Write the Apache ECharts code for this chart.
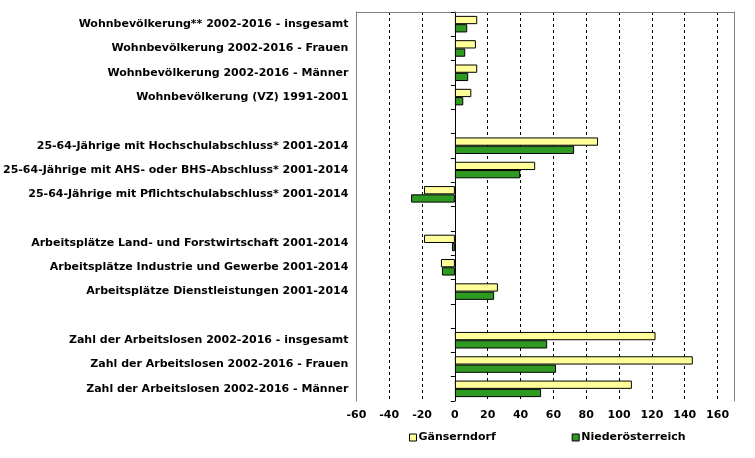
<!DOCTYPE html>
<html>
<head>
<meta charset="utf-8">
<script src="https://cdn.jsdelivr.net/npm/echarts@6/dist/echarts.min.js"></script>
<style>
html,body{margin:0;padding:0;background:#fff;}
#c{width:755px;height:458px;}
</style>
</head>
<body>
<div id="c"></div>
<script>
const categories = [
  'Wohnbevölkerung** 2002-2016 - insgesamt',
  'Wohnbevölkerung 2002-2016 - Frauen',
  'Wohnbevölkerung 2002-2016 - Männer',
  'Wohnbevölkerung (VZ) 1991-2001',
  ' ',
  '25-64-Jährige mit Hochschulabschluss* 2001-2014',
  '25-64-Jährige mit AHS- oder BHS-Abschluss* 2001-2014',
  '25-64-Jährige mit Pflichtschulabschluss* 2001-2014',
  '  ',
  'Arbeitsplätze Land- und Forstwirtschaft 2001-2014',
  'Arbeitsplätze Industrie und Gewerbe 2001-2014',
  'Arbeitsplätze Dienstleistungen 2001-2014',
  '   ',
  'Zahl der Arbeitslosen 2002-2016 - insgesamt',
  'Zahl der Arbeitslosen 2002-2016 - Frauen',
  'Zahl der Arbeitslosen 2002-2016 - Männer'
];
const seriesNames = ['Gänserndorf', 'Niederösterreich'];
const gaenserndorf = [13.6, 12.8, 13.6, 10.0, null, 87.2, 48.9, -18.8, null, -18.8, -8.5, 26.2, null, 122.2, 144.9, 107.8];
const niederoesterreich = [7.5, 6.3, 8.1, 5.1, null, 72.6, 39.8, -26.7, null, -1.8, -7.9, 23.9, null, 56.2, 61.6, 52.5];
const xMin = -60, xMax = 170, xStep = 20;

const FONT = '"DejaVu Sans", Verdana, sans-serif';
const chart = echarts.init(document.getElementById('c'), null, {renderer: 'canvas'});
const valueAxisBase = {type: 'value', min: xMin, max: xMax, interval: xStep};
chart.setOption({
  animation: false,
  backgroundColor: '#fff',
  textStyle: {fontFamily: FONT},
  grid: {left: 355, right: 21, top: 12, bottom: 57, containLabel: false},
  legend: {
    data: seriesNames,
    left: 404, bottom: 10,
    itemGap: 76,
    icon: 'rect', itemWidth: 7, itemHeight: 7,
    itemStyle: {borderColor: '#000', borderWidth: 1},
    textStyle: {fontFamily: FONT, fontWeight: 'bold', fontSize: 11, color: '#000', padding: [0,0,0,-3]}
  },
  xAxis: [
    Object.assign({}, valueAxisBase, {
      position: 'bottom',
      axisLine: {show: false, onZero: false},
      axisTick: {show: false},
      axisLabel: {showMaxLabel: false, margin: 9, fontFamily: FONT, fontWeight: 'bold', fontSize: 11, color: '#000'},
      splitLine: {show: true, showMinLine: false, showMaxLine: false, lineStyle: {color: '#000', type: [3, 3], width: 1}}
    }),
    Object.assign({}, valueAxisBase, {
      position: 'top',
      axisLine: {show: true, onZero: false, lineStyle: {color: '#808080', width: 1}},
      axisTick: {show: false}, axisLabel: {show: false}, splitLine: {show: false}
    })
  ],
  yAxis: [
    {
      type: 'category', data: categories, inverse: true, position: 'left',
      axisLine: {show: true, onZero: false, lineStyle: {color: '#808080', width: 1}},
      axisTick: {show: false},
      axisLabel: {margin: 8, padding: [3, 0, 0, 0], fontFamily: FONT, fontWeight: 'bold', fontSize: 11, color: '#000'}
    },
    {
      type: 'category', data: categories, inverse: true, position: 'left',
      axisLine: {show: true, onZero: true, lineStyle: {color: '#000', width: 1}},
      axisTick: {show: true, length: 4, lineStyle: {color: '#000'}},
      axisLabel: {show: false}
    },
    {
      type: 'category', data: categories, inverse: true, position: 'right',
      axisLine: {show: true, onZero: false, lineStyle: {color: '#808080', width: 1}},
      axisTick: {show: false}, axisLabel: {show: false}
    }
  ],
  series: [
    {
      name: seriesNames[0], type: 'bar', data: gaenserndorf,
      xAxisIndex: 0, yAxisIndex: 0,
      barGap: '0%', barCategoryGap: '32%',
      itemStyle: {color: '#FFFF99', borderColor: '#000', borderWidth: 1}
    },
    {
      name: seriesNames[1], type: 'bar', data: niederoesterreich,
      xAxisIndex: 0, yAxisIndex: 0,
      barGap: '0%', barCategoryGap: '32%',
      itemStyle: {color: '#2E9A22', borderColor: '#000', borderWidth: 1}
    }
  ]
});
</script>
</body>
</html>
